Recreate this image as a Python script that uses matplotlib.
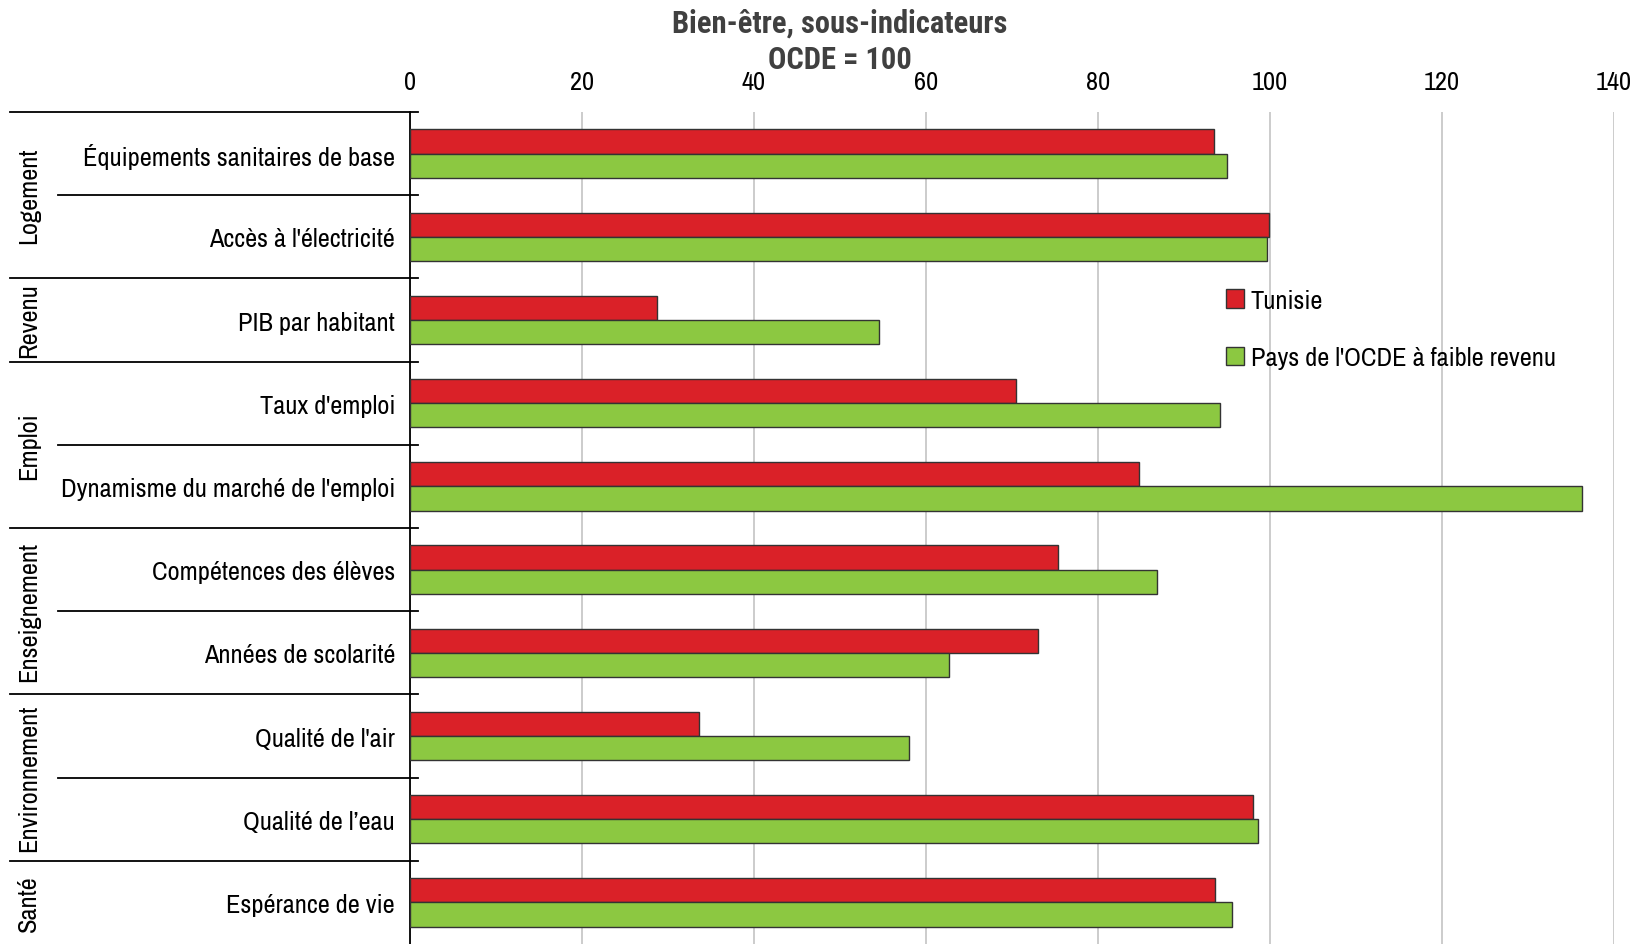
import matplotlib
matplotlib.use("Agg")
import matplotlib.pyplot as plt
import numpy as np

plt.rcParams['font.family'] = ['Archivo Narrow', 'DejaVu Sans']

categories = [
    "Équipements sanitaires de base",
    "Accès à l'électricité",
    "PIB par habitant",
    "Taux d'emploi",
    "Dynamisme du marché de l'emploi",
    "Compétences des élèves",
    "Années de scolarité",
    "Qualité de l'air",
    "Qualité de l’eau",
    "Espérance de vie",
]
groups = ["Logement", "Revenu", "Emploi", "Enseignement", "Environnement", "Santé"]
group_sizes = [2, 1, 2, 2, 2, 1]

tunisie = [93.5, 99.9, 28.7, 70.5, 84.8, 75.4, 73.0, 33.6, 98.0, 93.6]
ocde_faible = [95.0, 99.7, 54.6, 94.2, 136.3, 86.9, 62.7, 58.0, 98.6, 95.6]

red = "#da2128"
green = "#8cc841"
fs = 19

fig = plt.figure(figsize=(16.47, 9.45), dpi=100)
ax = fig.add_axes([0.2487, 0.0, 0.7313, 0.8804])

y = np.arange(len(categories))
h = 0.29
ax.barh(y - h / 2, tunisie, height=h, color=red, edgecolor="#333333", linewidth=1, label="Tunisie", zorder=3)
ax.barh(y + h / 2, ocde_faible, height=h, color=green, edgecolor="#333333", linewidth=1,
        label="Pays de l'OCDE à faible revenu", zorder=3)

ax.set_ylim(len(categories) - 0.5, -0.5)
ax.set_xlim(0, 140)
ax.set_xticks(np.arange(0, 141, 20))
ax.xaxis.tick_top()
ax.tick_params(axis="x", length=0, pad=14, labelsize=fs)
ax.tick_params(axis="y", length=0, pad=10.5, labelsize=fs)
ax.set_yticks(y)
ax.set_yticklabels(categories)
ax.grid(axis="x", color="#c8c8c8", linewidth=1.3, zorder=0)
for s in ["top", "right", "bottom"]:
    ax.spines[s].set_visible(False)
ax.spines["left"].set_color("black")
ax.spines["left"].set_linewidth(1.3)

# separators between rows / groups, group names on the left
tr = ax.get_yaxis_transform()
start = 0
for g, n in zip(groups, group_sizes):
    ax.plot([-0.3315, 0.007], [start - 0.5, start - 0.5], transform=tr, color="black",
            linewidth=1.3, clip_on=False)
    for k in range(1, n):
        ax.plot([-0.2922, 0.007], [start + k - 0.5, start + k - 0.5], transform=tr,
                color="black", linewidth=1.3, clip_on=False)
    ax.text(-0.3166, start + (n - 1) / 2, g, transform=tr, rotation=90, ha="center",
            va="center", fontsize=fs)
    start += n

ax.legend(loc="upper left", bbox_to_anchor=(0.658, 0.816), frameon=False, fontsize=fs,
          handlelength=0.7, handleheight=0.7, handletextpad=0.25, labelspacing=1.3)

fig.text(0.51, 0.991, "Bien-être, sous-indicateurs\nOCDE = 100", ha="center", va="top",
         fontsize=22, fontweight="bold", color="#404040", linespacing=1.27,
         family=['Roboto Condensed', 'Fira Sans Condensed', 'Archivo Narrow'])

fig.savefig("out.png", dpi=100)
